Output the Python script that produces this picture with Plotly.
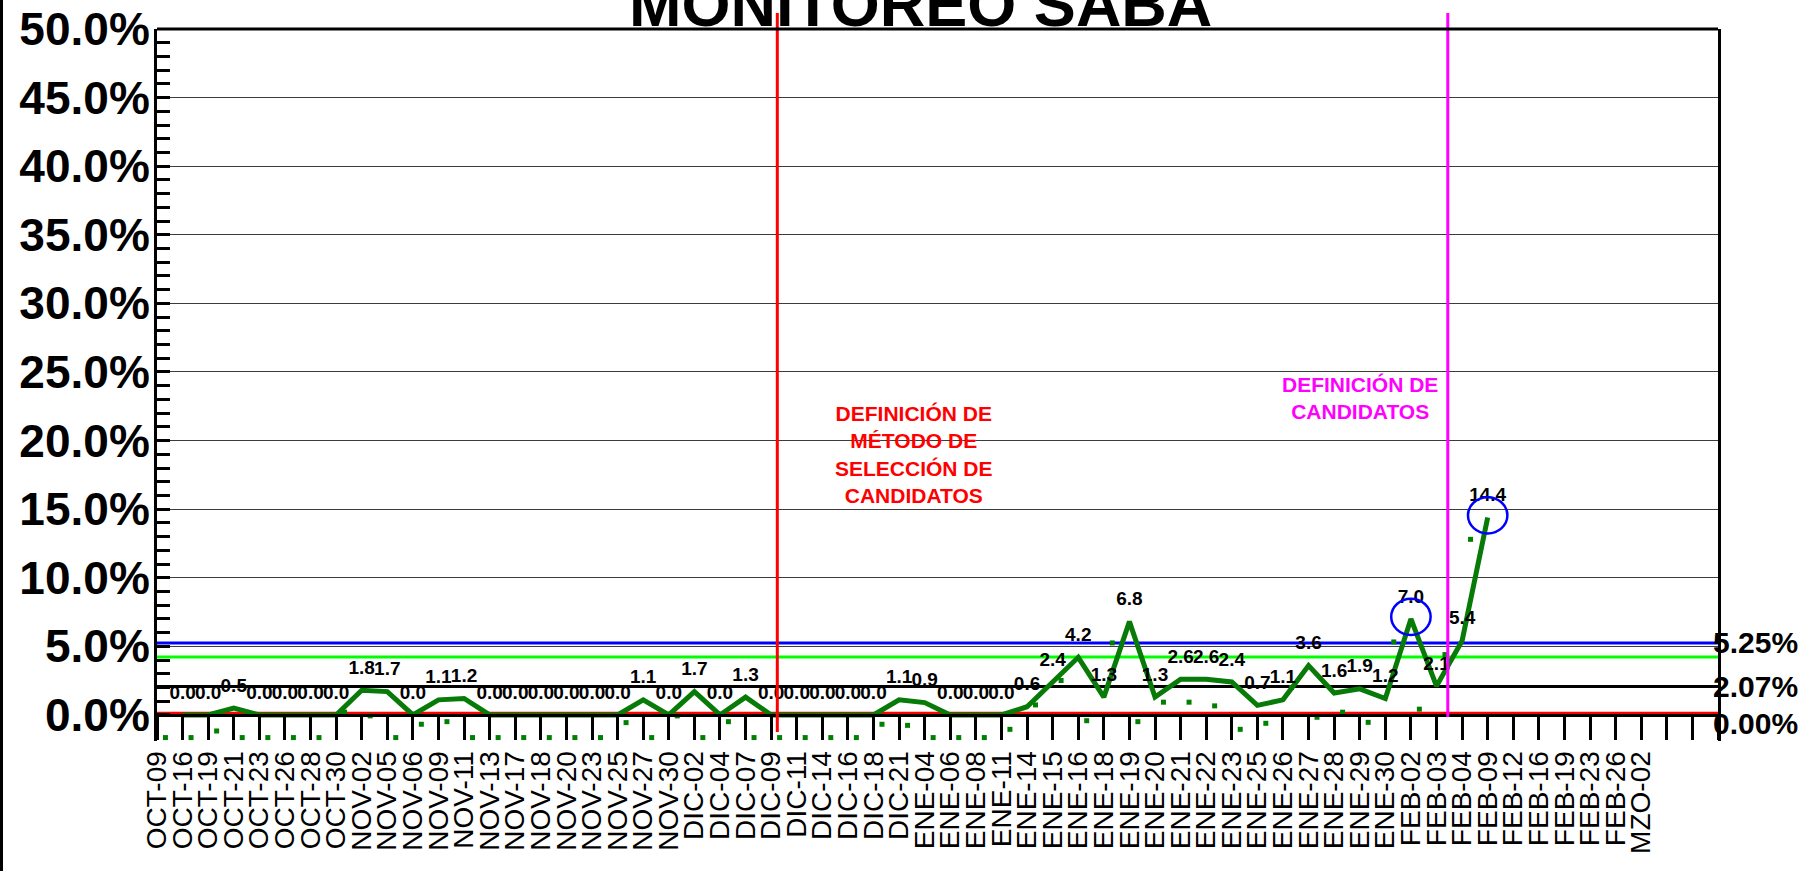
import numpy as np
import plotly.graph_objects as go

# ---- data ----
fechas = [
    "OCT-09", "OCT-16", "OCT-19", "OCT-21", "OCT-23", "OCT-26", "OCT-28", "OCT-30",
    "NOV-02", "NOV-05", "NOV-06", "NOV-09", "NOV-11", "NOV-13", "NOV-17", "NOV-18",
    "NOV-20", "NOV-23", "NOV-25", "NOV-27", "NOV-30",
    "DIC-02", "DIC-04", "DIC-07", "DIC-09", "DIC-11", "DIC-14", "DIC-16", "DIC-18", "DIC-21",
    "ENE-04", "ENE-06", "ENE-08", "ENE-11", "ENE-14", "ENE-15", "ENE-16", "ENE-18",
    "ENE-19", "ENE-20", "ENE-21", "ENE-22", "ENE-23", "ENE-25", "ENE-26", "ENE-27",
    "ENE-28", "ENE-29", "ENE-30",
    "FEB-02", "FEB-03", "FEB-04", "FEB-09", "FEB-12", "FEB-16", "FEB-19", "FEB-23", "FEB-26",
    "MZO-02",
]

saba = [
    None, 0.0, 0.0, 0.5, 0.0, 0.0, 0.0, 0.0,
    1.8, 1.7, 0.0, 1.1, 1.2, 0.0, 0.0, 0.0,
    0.0, 0.0, 0.0, 1.1, 0.0,
    1.7, 0.0, 1.3, 0.0, 0.0, 0.0, 0.0, 0.0, 1.1,
    0.9, 0.0, 0.0, 0.0, 0.6, 2.4, 4.2, 1.3,
    6.8, 1.3, 2.6, 2.6, 2.4, 0.7, 1.1, 3.6,
    1.6, 1.9, 1.2,
    7.0, 2.1, 5.4, 14.4, None, None, None, None, None,
    None,
]

# small dotted series (lower band)
inferior = [
    -1.65, -1.65, -1.17, -1.65, -1.65, -1.65, -1.65, 0.2,
    -0.07, -1.65, -0.68, -0.49, -1.65, -1.65, -1.65, -1.65,
    -1.65, -1.65, -0.56, -1.65, -0.07,
    -1.65, -0.49, -1.65, -1.65, -1.65, -1.65, -1.65, -0.68, -0.76,
    -1.65, -1.65, -1.65, -1.05, 0.73, 2.51, -0.42, 5.25,
    -0.49, 0.93, 0.93, 0.66, -1.05, -0.61, 2.0, -0.17,
    0.2, -0.54, 5.32,
    0.42, 4.4, 12.8, None, None, None, None, None, None,
    None,
]

# reference levels (value, colour, label)
niveles = [5.25, 4.22, 2.07, 0.0]
niveles_color = ["#0000FF", "#00FF00", "#000000", "#FF0000"]
niveles_texto = ["5.25%", "", "2.07%", "0.00%"]

# events (position in category units)
eventos_x = [24.24, 50.44]
eventos_color = ["#FF0000", "#FF00FF"]
eventos_texto = [
    "<b>DEFINICIÓN DE<br>MÉTODO DE<br>SELECCIÓN DE<br>CANDIDATOS</b>",
    "<b>DEFINICIÓN DE<br>CANDIDATOS</b>",
]

destacados = ["FEB-02", "FEB-09"]

FONT = "Liberation Sans, Arial, sans-serif"
idx = np.arange(len(fechas))
x_max = len(fechas) + 2

fig = go.Figure()

# dotted lower series, shifted a third of a category
fig.add_trace(go.Scatter(
    x=idx + 0.33, y=inferior, mode="markers",
    marker=dict(symbol="square", size=5, color="#008000"),
    cliponaxis=False, showlegend=False,
))

# main line with value labels
fig.add_trace(go.Scatter(
    x=idx, y=saba, mode="lines+markers+text",
    line=dict(color="#077A07", width=5),
    marker=dict(size=17, opacity=0),
    text=[None if v is None else f"{v:.1f}" for v in saba],
    textposition="top center",
    textfont=dict(family=FONT, size=19, color="black", weight="bold"),
    cliponaxis=False, showlegend=False,
))

shapes = []
annotations = []

# horizontal reference lines
for v, c, t in zip(niveles, niveles_color, niveles_texto):
    y_line = v + 0.12 if v == 0 else v
    shapes.append(dict(type="line", xref="x domain", yref="y", x0=0, x1=1,
                       y0=y_line, y1=y_line, line=dict(color=c, width=3), layer="below"))
    if t:
        annotations.append(dict(
            text=f"<b>{t}</b>", xref="x domain", yref="y", x=1, y=y_line,
            xanchor="left", yanchor="middle", xshift=-7, yshift=-10 if v == 0 else 0,
            showarrow=False, font=dict(family=FONT, size=30, color="black"),
        ))

# vertical event lines + texts
ev_y0 = [0.0126, 0.0337]
ev_txt_pos = [(29.6, 19.0), (47.0, 23.1)]
for ex, c, t, y0, (tx, ty) in zip(eventos_x, eventos_color, eventos_texto, ev_y0, ev_txt_pos):
    shapes.append(dict(type="line", xref="x", yref="paper", x0=ex, x1=ex,
                       y0=y0, y1=1.0225, line=dict(color=c, width=3)))
    annotations.append(dict(
        text=t, xref="x", yref="y", x=tx, y=ty, showarrow=False,
        font=dict(family=FONT, size=21, color=c), align="center",
    ))

# blue circles on highlighted points
for f in destacados:
    i = fechas.index(f)
    v = saba[i] + 0.15
    shapes.append(dict(type="circle", xref="x", yref="y",
                       x0=i - 0.77, x1=i + 0.77, y0=v - 1.32, y1=v + 1.32,
                       line=dict(color="#0000FF", width=2.5)))

# top border of the plot and left frame edge
shapes.append(dict(type="line", xref="x domain", yref="y domain", x0=0, x1=1, y0=1, y1=1,
                   line=dict(color="black", width=3)))
shapes.append(dict(type="line", xref="paper", yref="paper",
                   x0=-155.5 / 1561, x1=-155.5 / 1561, y0=-130 / 712, y1=1 + 29 / 712,
                   line=dict(color="black", width=3)))

# title (partly cut at the top as in the source)
annotations.append(dict(
    text="<b>MONITOREO SABA</b>", xref="paper", yref="paper",
    x=0.4888, y=1.0353, xanchor="center", yanchor="middle", showarrow=False,
    font=dict(family=FONT, size=63, color="black"),
))

fig.update_layout(
    width=1804, height=871,
    margin=dict(l=157, r=86, t=29, b=130),
    plot_bgcolor="white", paper_bgcolor="white",
    shapes=shapes, annotations=annotations,
    showlegend=False,
)

# x axis sits on y=0, the dotted series hangs just below it
fig.update_xaxes(
    range=[0, x_max],
    anchor="free", position=26 / 712,
    tickmode="array",
    tickvals=list(range(x_max + 1)),
    ticktext=fechas + [""] * (x_max + 1 - len(fechas)),
    tickangle=-90,
    tickfont=dict(family=FONT, size=28, color="black"),
    ticks="outside", ticklen=23, tickwidth=2.5, tickcolor="black",
    showline=True, linewidth=3, linecolor="black",
    showgrid=False, zeroline=False, automargin=False,
)

minor_vals = [v for v in range(1, 50) if v % 5]
fig.update_yaxes(
    range=[-1.9, 50],
    tick0=0, dtick=5,
    tickformat=".1f", ticksuffix="%",
    tickfont=dict(family=FONT, size=46, color="black", weight="bold"),
    ticks="inside", ticklen=13, tickwidth=2.5, tickcolor="black",
    ticklabelstandoff=-5,
    minor=dict(tickmode="array", tickvals=minor_vals, ticks="inside", ticklen=13,
               tickwidth=2.5, tickcolor="black", showgrid=False),
    showline=True, linewidth=3, linecolor="black", mirror=True,
    showgrid=True, gridcolor="#3c3c3c", gridwidth=1,
    zeroline=False, automargin=False,
)

# page has a default body margin; drop it so the figure fills the window
fig.write_html("out.html", config={"displayModeBar": False},
               post_script="document.body.style.margin='0px';")
